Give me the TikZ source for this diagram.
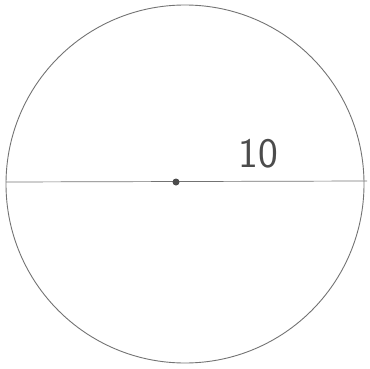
\documentclass[tikz,border=0pt]{standalone}
\usepackage{tikz}
\usetikzlibrary{positioning}

\begin{document}
\begin{tikzpicture}[x=1pt,y=-1pt,pencil/.style={draw=black!55,line width=0.9pt}]
        \useasboundingbox (0,0) rectangle (369,369);
        \coordinate (O) at (185,184);
        \coordinate (L) at (6,182);
        \coordinate (R) at (367,181);
        \draw[pencil] (O) circle (179);
        \draw[pencil, line width=0.7pt] (L) -- (R);
        \node[circle, fill=black!70, inner sep=0pt, minimum size=7pt] (c) at (176,182) {};
        \node[font=\sffamily\fontsize{42}{42}\selectfont, text=black!70] (d) at (258,154) {10};
    \end{tikzpicture}
\end{document}
